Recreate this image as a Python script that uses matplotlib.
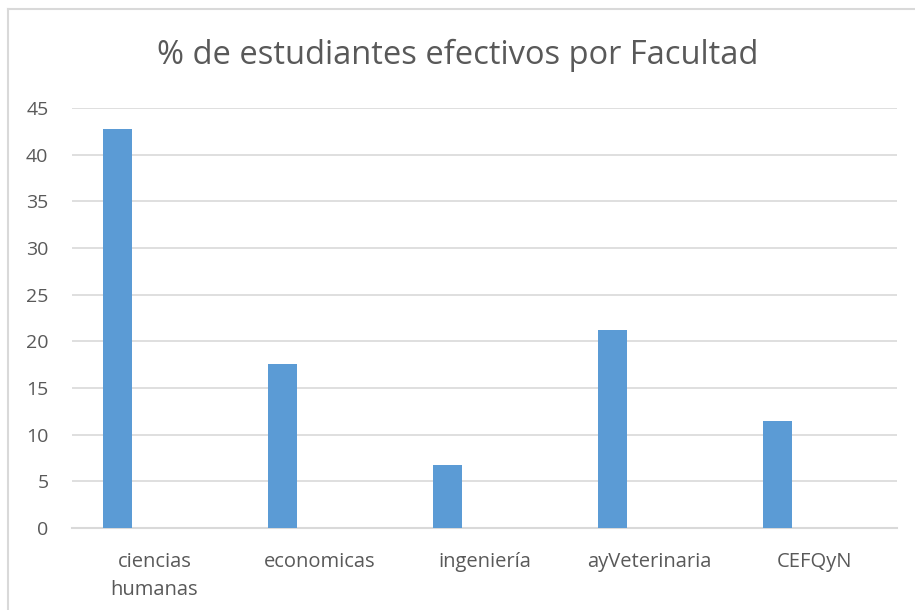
import matplotlib.pyplot as plt
import numpy as np
from matplotlib.lines import Line2D

categories = ['ciencias\nhumanas', 'economicas', 'ingeniería', 'ayVeterinaria', 'CEFQyN']
values = [42.8, 17.6, 6.8, 21.2, 11.5]
y_ticks = [0, 5, 10, 15, 20, 25, 30, 35, 40, 45]

plt.rcParams['font.family'] = ['Open Sans', 'DejaVu Sans']
text_color = '#595959'
grid_color = '#d9d9d9'
bar_color = '#5b9bd5'

fig = plt.figure(figsize=(9.15, 6.10), dpi=100)
ax = fig.add_axes([72 / 915, 82 / 610, 825 / 915, 420 / 610])

x = np.arange(len(categories))
# Excel-style clustered layout: bar sits left of the category centre
ax.bar(x + 0.276, values, width=0.176, color=bar_color, zorder=3)

ax.set_xlim(0, len(categories))
ax.set_ylim(0, 45)
ax.set_yticks(y_ticks)
ax.set_xticks(x + 0.5)
ax.set_xticklabels(categories, fontsize=14.5, color=text_color, linespacing=1.55)
ax.tick_params(axis='y', labelsize=14, labelcolor=text_color, length=0, pad=17)
ax.tick_params(axis='x', length=0, pad=17)

ax.grid(axis='y', color=grid_color, linewidth=1.2, zorder=0)
for side in ['top', 'right', 'left']:
    ax.spines[side].set_visible(False)
ax.spines['bottom'].set_color(grid_color)
ax.spines['bottom'].set_linewidth(1.5)

fig.text(0.5, 1 - 55 / 610, '% de estudiantes efectivos por Facultad',
         ha='center', va='center', fontsize=23.5, color=text_color)

# chart frame (cropped at right and bottom)
fig.add_artist(Line2D([8 / 915, 1], [1 - 9 / 610, 1 - 9 / 610], color=grid_color, linewidth=1.5))
fig.add_artist(Line2D([8 / 915, 8 / 915], [0, 1 - 9 / 610], color=grid_color, linewidth=1.5))

fig.savefig('out.png', dpi=100)
